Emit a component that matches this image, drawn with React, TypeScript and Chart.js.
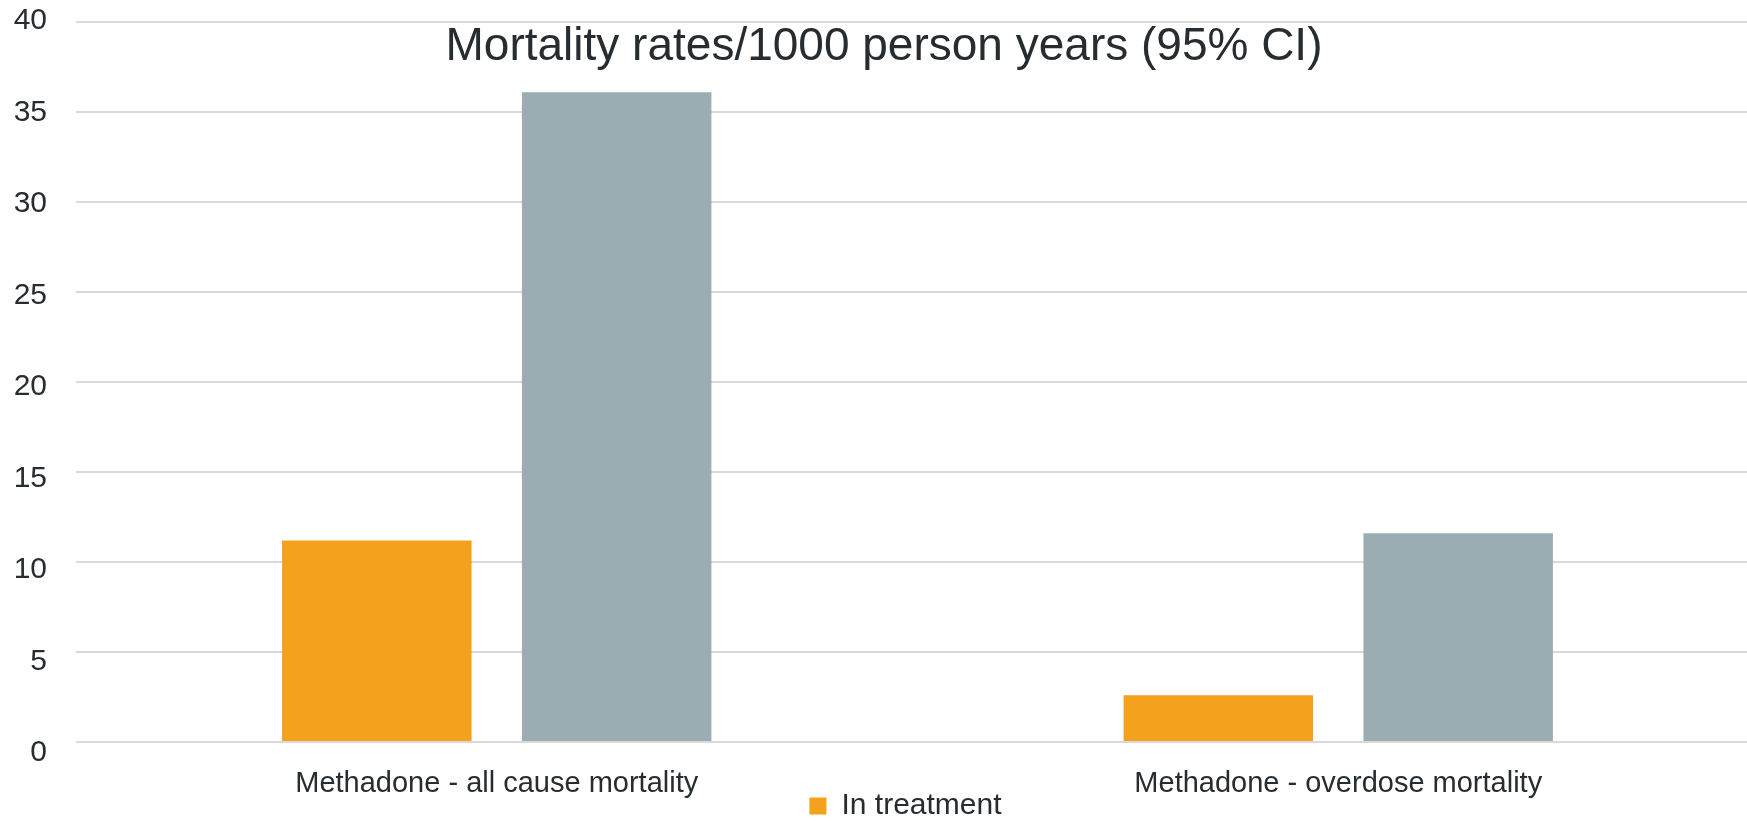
import React, { useEffect, useRef } from 'react';
import { Chart, registerables } from 'chart.js';

Chart.register(...registerables);

const categories = ['Methadone - all cause mortality', 'Methadone - overdose mortality'];
const seriesNames = ['In treatment', 'Out of treatment'];
const inTreatment = [11.2, 2.6];
const outOfTreatment = [36.1, 11.6];
const titleText = 'Mortality rates/1000 person years (95% CI)';
const yTickValues = [0, 5, 10, 15, 20, 25, 30, 35, 40];
const yMin = 0;
const yMax = 40;
const yStep = 5;

const TEXT = '#272c30';
const FONT = '"Liberation Sans", Arial, Helvetica, sans-serif';

// Title sits over the plot area (as in the reference), so it is drawn by a small plugin.
const overlayTitle = {
  id: 'overlayTitle',
  afterDraw(chart: any) {
    const ctx = chart.ctx;
    ctx.save();
    ctx.font = `46px ${FONT}`;
    ctx.fillStyle = TEXT;
    ctx.textAlign = 'center';
    ctx.textBaseline = 'alphabetic';
    ctx.fillText(titleText, 884, 60);
    ctx.restore();
  },
};

// Let the category labels extend below the x-axis box (legend sits right under them),
// and nudge the legend slightly left as in the reference.
const layoutTweaks = {
  id: 'layoutTweaks',
  afterLayout(chart: any) {
    const x = chart.scales.x;
    if (x) x.bottom = chart.height;
    const lg = chart.legend;
    if (lg) {
      lg.left -= 12;
      lg.right -= 12;
    }
  },
};

export default function App() {
  const canvasRef = useRef<HTMLCanvasElement | null>(null);

  useEffect(() => {
    if (!canvasRef.current) return;
    const chart = new Chart(canvasRef.current, {
      type: 'bar',
      data: {
        labels: categories,
        datasets: [
          { label: seriesNames[0], data: inTreatment, backgroundColor: '#f4a11e', categoryPercentage: 0.57, barPercentage: 0.79 },
          { label: seriesNames[1], data: outOfTreatment, backgroundColor: '#9badb3', categoryPercentage: 0.57, barPercentage: 0.79 },
        ],
      },
      plugins: [overlayTitle, layoutTweaks],
      options: {
        animation: false,
        responsive: true,
        maintainAspectRatio: false,
        layout: { padding: { top: 22, right: 0, left: 0, bottom: 0 } },
        plugins: {
          title: { display: false },
          tooltip: { enabled: false },
          legend: {
            display: true,
            position: 'bottom',
            fullSize: false,
            maxHeight: 30,
            labels: {
              filter: (item: any) => item.datasetIndex === 0,
              boxWidth: 17, boxHeight: 17, padding: 0, color: TEXT,
              font: { family: FONT, size: 30 },
            },
          },
        },
        scales: {
          x: {
            grid: { display: false, drawTicks: false },
            border: { display: false },
            ticks: { color: TEXT, font: { family: FONT, size: 29 }, padding: 25, maxRotation: 0, autoSkip: false },
            afterFit: (scale: any) => { scale.height = 49; },
          },
          // value axis: carries the bars and the gridlines
          y: {
            min: yMin, max: yMax,
            position: 'left',
            grid: { color: '#d9d9d9', lineWidth: 2, drawTicks: false },
            border: { display: false },
            ticks: { stepSize: yStep, display: false },
            afterFit: (scale: any) => {
              scale.width = 0;
              scale.paddingTop = 0;
              scale.paddingBottom = 0;
            },
          },
          // label axis: the reference's tick labels drift slightly below the gridlines toward 0
          yLabels: {
            type: 'linear',
            position: 'left',
            min: 0.6,
            max: 39.95,
            grid: { display: false, drawTicks: false },
            border: { display: false },
            afterBuildTicks: (scale: any) => {
              scale.ticks = yTickValues.map((v) => ({ value: v }));
            },
            ticks: {
              color: TEXT,
              font: { family: FONT, size: 30 },
              padding: 29,
              callback: (v: any) => String(v),
            },
            afterFit: (scale: any) => {
              scale.width = 76;
              scale.paddingTop = 0;
              scale.paddingBottom = 0;
            },
          },
        },
      },
    });
    return () => chart.destroy();
  }, []);

  return (
    <div style={{ position: 'fixed', left: 0, top: 0, width: '1759px', height: '821px', background: '#fff' }}>
      <canvas ref={canvasRef} />
    </div>
  );
}
